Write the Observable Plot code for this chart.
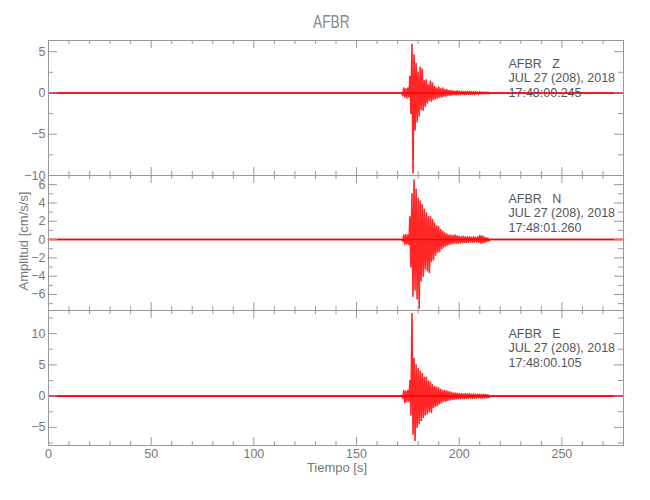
<!DOCTYPE html>
<html>
<head>
<meta charset="utf-8">
<script src="https://cdn.jsdelivr.net/npm/d3@7"></script>
<script src="https://cdn.jsdelivr.net/npm/@observablehq/plot@0.6"></script>
<style>
  html, body { margin: 0; padding: 0; background: #fff; }
  #wrap { position: relative; width: 650px; height: 500px; overflow: hidden;
          font-family: "Liberation Sans Narrow", "Liberation Sans", "DejaVu Sans", sans-serif; color: #777; }
  .panel { position: absolute; left: 0; }
  #title { position: absolute; left: 0; width: 662px; top: 12px; text-align: center;
           font-size: 19px; line-height: 19px; color: #8a8a8a; }
  #title span { display: inline-block; transform: scaleX(0.72); }
  #ylab { position: absolute; left: 23px; top: 241px; white-space: nowrap; font-size: 13px; line-height: 13px;
          transform: translate(-50%, -50%) rotate(-90deg); color: #777; }
  #xlab { position: absolute; left: 0; width: 674px; top: 461px; text-align: center; font-size: 13px; line-height: 13px; color: #777; }
</style>
</head>
<body>
<div id="wrap">
  <div id="title"><span></span></div>
  <div id="ylab"></div>
  <div id="xlab"></div>
</div>
<script>
// ---------- data ----------
const title = "AFBR";
const station = "AFBR";
const xLabel = "Tiempo [s]";
const yLabel = "Amplitud [cm/s/s]";
const dateLabel = "JUL 27 (208), 2018";
const channels = ["Z", "N", "E"];
const startTimes = ["17:48:00.245", "17:48:01.260", "17:48:00.105"];

const xMajor = [0, 50, 100, 150, 200, 250];
const xMinor = [10, 20, 30, 40, 60, 70, 80, 90, 110, 120, 130, 140, 160, 170, 180, 190, 210, 220, 230, 240, 260, 270];

const yMajorZ = [-10, -5, 0, 5];
const yMinorZ = [-7.5, -2.5, 2.5];
const yMajorN = [-6, -4, -2, 0, 2, 4, 6];
const yMinorN = [-7, -5, -3, -1, 1, 3, 5, 7];
const yMajorE = [-5, 0, 5, 10];
const yMinorE = [-7.5, -2.5, 2.5, 7.5, 12.5];

const tStart = 172, tStep = 0.5, tEnd = 280;

const zPeaks = [
  0,-0.3, 0.6,-0.5, 0.5,-0.6, 0.6,-0.5, 2.0,-2.5, 5.9,-9.7, 4.6,-4.5, 3.6,-3.5,
  2.5,-2.8, 3.1,-2.0, 2.9,-2.1, 1.5,-1.6, 1.6,-1.2, 1.0,-0.9, 1.4,-1.0, 1.2,-0.8,
  0.8,-0.7, 0.6,-0.6, 0.7,-0.5, 0.5,-0.5, 0.6,-0.4, 0.4,-0.4, 0.4,-0.3, 0.3,-0.3,
  0.3,-0.25, 0.25,-0.2, 0.2,-0.25, 0.25,-0.2, 0.2,-0.2, 0.2,-0.15, 0.15,-0.2, 0.2,-0.15,
  0.15,-0.15, 0.2,-0.15, 0.15,-0.15, 0.15,-0.2, 0.15,-0.1, 0.1,-0.15, 0.15,-0.1, 0.1,-0.1,
  0.1,-0.1, 0.1,-0.1, 0.1,-0.1, 0
];
const nPeaks = [
  0,-0.2, 0.5,-0.5, 0.55,-0.5, 0.5,-0.55, 2.5,-3.0, 5.0,-6.2, 6.5,-5.5, 5.5,-6.5,
  4.5,-7.5, 4.2,-4.5, 3.8,-4.0, 3.3,-3.2, 2.9,-3.4, 2.5,-3.6, 2.5,-2.4, 2.2,-2.2,
  1.8,-1.7, 1.5,-1.4, 1.4,-1.3, 1.1,-1.0, 0.9,-0.8, 0.7,-0.7, 0.6,-0.6, 0.5,-0.5,
  0.5,-0.45, 0.45,-0.4, 0.5,-0.4, 0.4,-0.4, 0.35,-0.35, 0.3,-0.35, 0.35,-0.3, 0.3,-0.3,
  0.3,-0.3, 0.3,-0.25, 0.25,-0.3, 0.3,-0.25, 0.25,-0.25, 0.3,-0.3, 0.45,-0.4, 0.4,-0.35,
  0.3,-0.3, 0.2,-0.2, 0.15,-0.15, 0
];
const ePeaks = [
  0,-0.3, 0.9,-1.0, 0.8,-0.9, 0.9,-0.8, 2.5,-3.0, 13.2,-6.1, 6.0,-7.1, 5.0,-5.0,
  4.4,-4.4, 4.0,-3.9, 3.6,-3.4, 3.0,-3.0, 3.0,-2.8, 2.4,-2.5, 2.2,-2.6, 1.8,-1.8,
  1.5,-1.6, 1.4,-1.5, 1.3,-1.2, 1.1,-1.0, 0.9,-0.8, 0.9,-0.8, 0.8,-0.7, 0.7,-0.6,
  0.6,-0.5, 0.5,-0.5, 0.5,-0.45, 0.45,-0.4, 0.4,-0.4, 0.4,-0.35, 0.35,-0.4, 0.4,-0.35,
  0.35,-0.35, 0.4,-0.3, 0.3,-0.35, 0.35,-0.3, 0.3,-0.3, 0.3,-0.25, 0.3,-0.3, 0.25,-0.3,
  0.3,-0.25, 0.25,-0.25, 0.2,-0.2, 0
];

// ---------- layout ----------
const GRAY = "#999";
const TEXT = "#777";
const W = 650, L = 48, R = 27, H = 135;
const plotW = W - L - R;
const FONT = '"Liberation Sans Narrow", "Liberation Sans", "DejaVu Sans", sans-serif';

const panels = [
  {peaks: zPeaks, domain: [-10, 6.35], major: yMajorZ, minor: yMinorZ, top: 40, showX: false},
  {peaks: nPeaks, domain: [-7.75, 7.0], major: yMajorN, minor: yMinorN, top: 175, showX: false},
  {peaks: ePeaks, domain: [-7.9, 13.7], major: yMajorE, minor: yMinorE, top: 310, showX: true}
];

function trace(peaks) {
  return [{t: 0, v: 0}, ...peaks.map((v, i) => ({t: tStart + i * tStep, v})), {t: tEnd, v: 0}];
}

const wrap = document.getElementById("wrap");
document.querySelector("#title span").textContent = title;
document.getElementById("ylab").textContent = yLabel;
document.getElementById("xlab").textContent = xLabel;

panels.forEach((p, i) => {
  const marks = [
    Plot.ruleY([0], {stroke: "#ff0000", strokeWidth: 1.6}),
    Plot.line(trace(p.peaks), {x: "t", y: "v", stroke: "#ff0000", strokeWidth: 1.6, strokeOpacity: 0.85}),
    Plot.frame({stroke: GRAY}),
    Plot.tickX(xMajor, {x: d => d, stroke: GRAY, insetTop: H - 8}),
    Plot.tickX(xMajor, {x: d => d, stroke: GRAY, insetBottom: H - 8}),
    Plot.tickX(xMinor, {x: d => d, stroke: GRAY, insetTop: H - 4}),
    Plot.tickX(xMinor, {x: d => d, stroke: GRAY, insetBottom: H - 4}),
    Plot.tickY(p.major, {y: d => d, stroke: GRAY, insetRight: plotW - 9}),
    Plot.tickY(p.major, {y: d => d, stroke: GRAY, insetLeft: plotW - 9}),
    Plot.tickY(p.minor, {y: d => d, stroke: GRAY, insetRight: plotW - 5}),
    Plot.tickY(p.minor, {y: d => d, stroke: GRAY, insetLeft: plotW - 5}),
    Plot.axisY(p.major, {anchor: "left", tickSize: 0, tickPadding: 3, label: null, fill: TEXT, fontSize: 12.5}),
    Plot.text([[station + "   " + channels[i], dateLabel, startTimes[i]].join("\n")], {
      text: d => d, frameAnchor: "top-left", dx: 460, dy: 17, lineAnchor: "top",
      textAnchor: "start", lineHeight: 1.16, fill: "#555", fontSize: 12.5
    })
  ];
  if (p.showX) {
    marks.push(Plot.axisX(xMajor, {anchor: "bottom", tickSize: 0, tickPadding: 4, label: null, fill: TEXT, fontSize: 12.5}));
  }
  const svg = Plot.plot({
    width: W, height: H,
    marginLeft: L, marginRight: R, marginTop: 0, marginBottom: 0,
    x: {domain: [0, 280], axis: null},
    y: {domain: p.domain, axis: null},
    style: {background: "transparent", overflow: "visible", fontFamily: FONT, fontSize: "12.5px", color: TEXT},
    marks
  });
  const div = document.createElement("div");
  div.className = "panel";
  div.style.top = p.top + "px";
  div.appendChild(svg);
  wrap.appendChild(div);
});
</script>
</body>
</html>
